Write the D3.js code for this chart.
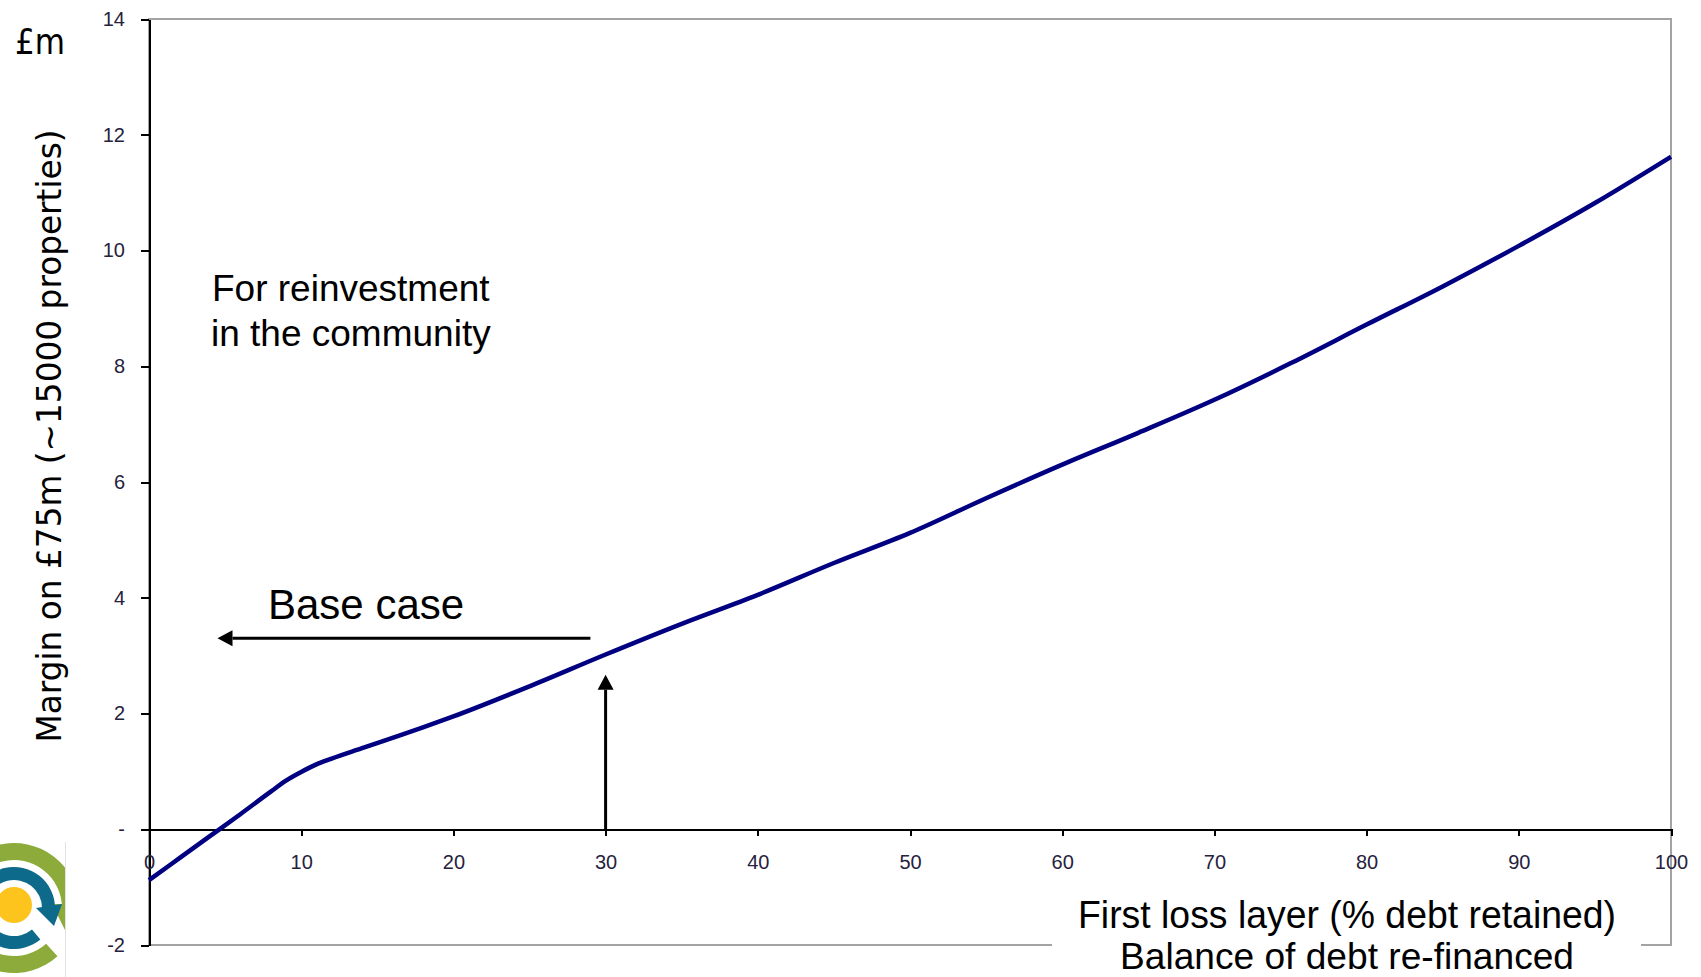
<!doctype html>
<html>
<head>
  <meta charset="utf-8">
  <style type="text/css">
    body { margin: 0; background: #fff; }
    svg { display: block; background: #fff; }
    text { font-family: "Liberation Sans", Arial, sans-serif; fill: #000; }
    .axis path, .axis line {
      fill: none;
      stroke: #000;
      stroke-width: 2px;
      shape-rendering: crispEdges;
    }
    .axis .tick text { font-size: 20px; fill: #26223c; }
    .frame { fill: none; stroke: #a3a3a3; stroke-width: 2px; shape-rendering: crispEdges; }
    .tahoma { font-family: "DejaVu Sans", Verdana, sans-serif; }
  </style>
  <title>Margin on £75m</title>
</head>
<body>
<svg class="chart"></svg>

<script type="text/javascript" src="https://cdnjs.cloudflare.com/ajax/libs/d3/7.8.5/d3.min.js"></script>
<script type="text/javascript">

// first loss layer (% debt retained)
var retained = [0, 2, 4, 6, 8, 9, 10, 11, 12, 14, 16, 18, 20, 25, 30, 35, 40, 45, 50, 55, 60, 65, 70, 75, 80, 85, 90, 95, 100];
// margin, £m
var margin_m = [-0.88, -0.5, -0.12, 0.26, 0.65, 0.84, 0.99, 1.12, 1.22, 1.4, 1.58, 1.76, 1.95, 2.47, 3.02, 3.55, 4.05, 4.6, 5.12, 5.72, 6.3, 6.85, 7.42, 8.05, 8.72, 9.38, 10.08, 10.82, 11.62];

var xTicks = [0, 10, 20, 30, 40, 50, 60, 70, 80, 90, 100];
var yTicks = [-2, 0, 2, 4, 6, 8, 10, 12, 14];

// annotation anchors, in data units
var baseCaseX = 30, baseCaseTip = 2.67;
var leftArrowY = 3.3, leftArrowFrom = 29.0, leftArrowTo = 4.5;

var outerWidth = 1701,
    outerHeight = 977,
    plot = { left: 149, right: 1671, top: 19, bottom: 945 };

var svg = d3.select(".chart")
  .attr("width", outerWidth)
  .attr("height", outerHeight);

var xScale = d3.scaleLinear()
  .domain([0, 100])
  .range([plot.left, plot.right]);

var yScale = d3.scaleLinear()
  .domain([-2, 14])
  .range([plot.bottom, plot.top]);

// plot frame (grey), left side is covered by the y axis
svg.append("rect")
  .attr("class", "frame")
  .attr("x", plot.left)
  .attr("y", plot.top)
  .attr("width", plot.right - plot.left)
  .attr("height", plot.bottom - plot.top);

svg.append("g")
  .attr("class", "axis y-axis")
  .attr("transform", "translate(" + plot.left + ",0)")
  .call(
    d3.axisLeft(yScale)
      .tickValues(yTicks)
      .tickSize(8)
      .tickSizeOuter(0)
      .tickPadding(16)
      .tickFormat(function(d) { return d === 0 ? "-" : d; })
  );

svg.append("g")
  .attr("class", "axis x-axis")
  .attr("transform", "translate(0," + yScale(0) + ")")
  .call(
    d3.axisBottom(xScale)
      .tickValues(xTicks)
      .tickSize(7)
      .tickSizeOuter(0)
      .tickPadding(19)
  );

// the line
var line = d3.line()
  .x(function(d) { return xScale(d[0]); })
  .y(function(d) { return yScale(d[1]); })
  .curve(d3.curveMonotoneX);

svg.append("path")
  .datum(d3.zip(retained, margin_m))
  .attr("fill", "none")
  .attr("stroke", "#000080")
  .attr("stroke-width", 4.5)
  .attr("stroke-linejoin", "round")
  .attr("d", line);

// arrows
function arrow(x1, y1, x2, y2) {
  var g = svg.append("g");
  var ang = Math.atan2(y2 - y1, x2 - x1),
      len = 15, half = 8;
  var bx = x2 - len * Math.cos(ang), by = y2 - len * Math.sin(ang);
  g.append("line")
    .attr("x1", x1).attr("y1", y1)
    .attr("x2", bx).attr("y2", by)
    .attr("stroke", "#000").attr("stroke-width", 3);
  g.append("path")
    .attr("fill", "#000")
    .attr("d", "M" + x2 + "," + y2 +
      "L" + (bx + half * Math.sin(ang)) + "," + (by - half * Math.cos(ang)) +
      "L" + (bx - half * Math.sin(ang)) + "," + (by + half * Math.cos(ang)) + "Z");
}

arrow(xScale(baseCaseX), yScale(0), xScale(baseCaseX), yScale(baseCaseTip));
arrow(xScale(leftArrowFrom), yScale(leftArrowY), xScale(leftArrowTo), yScale(leftArrowY));

svg.append("text")
  .attr("x", 268).attr("y", 619)
  .style("font-size", "42px")
  .text("Base case");

svg.append("text")
  .attr("x", 212).attr("y", 301)
  .style("font-size", "37px")
  .text("For reinvestment");
svg.append("text")
  .attr("x", 211).attr("y", 346)
  .style("font-size", "37px")
  .text("in the community");

// x title sits on a white box that breaks the bottom frame
svg.append("rect")
  .attr("x", 1052).attr("y", 888)
  .attr("width", 589).attr("height", 89)
  .attr("fill", "#fff");

svg.append("text")
  .attr("x", 1347).attr("y", 928)
  .attr("text-anchor", "middle")
  .attr("textLength", 538)
  .attr("lengthAdjust", "spacingAndGlyphs")
  .style("font-size", "39px")
  .text("First loss layer (% debt retained)");
svg.append("text")
  .attr("x", 1347).attr("y", 969)
  .attr("text-anchor", "middle")
  .attr("textLength", 454)
  .attr("lengthAdjust", "spacingAndGlyphs")
  .style("font-size", "37px")
  .text("Balance of debt re-financed");

// y title and unit
svg.append("text")
  .attr("class", "tahoma")
  .attr("transform", "translate(61,436) rotate(-90)")
  .attr("text-anchor", "middle")
  .attr("textLength", 613)
  .attr("lengthAdjust", "spacingAndGlyphs")
  .style("font-size", "34px")
  .text("Margin on £75m (~15000 properties)");

svg.append("text")
  .attr("class", "tahoma")
  .attr("x", 15).attr("y", 54)
  .attr("textLength", 50)
  .attr("lengthAdjust", "spacingAndGlyphs")
  .style("font-size", "35px")
  .text("£m");

// logo, bottom left (clipped at its image edge)
svg.append("clipPath").attr("id", "logo-clip")
  .append("rect").attr("x", 0).attr("y", 838).attr("width", 65).attr("height", 139);

var logo = svg.append("g")
  .attr("clip-path", "url(#logo-clip)")
  .append("g")
  .attr("transform", "translate(14,908)");

var deg = Math.PI / 180;
logo.append("path")
  .attr("fill", "#8cab3a")
  .attr("d", d3.arc().innerRadius(48).outerRadius(65).startAngle(138 * deg).endAngle(450 * deg)());
logo.append("path")
  .attr("fill", "#8cab3a")
  .attr("d", "M38,-4L62,-4L52,24Z");
logo.append("path")
  .attr("fill", "#0d6a8a")
  .attr("d", d3.arc().innerRadius(28).outerRadius(41).startAngle(140 * deg).endAngle(450 * deg)());
logo.append("path")
  .attr("fill", "#0d6a8a")
  .attr("d", "M22,0L48,-4L40,18Z");
logo.append("circle")
  .attr("r", 18).attr("cx", 0).attr("cy", -3)
  .attr("fill", "#fcc41c");

svg.append("line")
  .attr("x1", 65.5).attr("x2", 65.5)
  .attr("y1", 842).attr("y2", 977)
  .attr("stroke", "#e2e2e2").attr("stroke-width", 1);

</script>
</body>
</html>
